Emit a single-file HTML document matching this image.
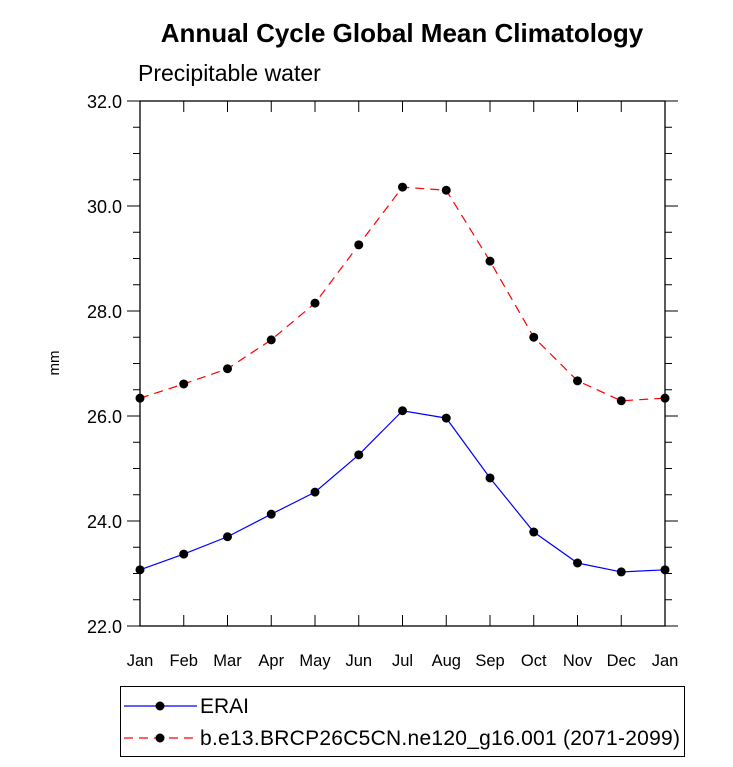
<!DOCTYPE html>
<html><head><meta charset="utf-8"><style>
body{margin:0;background:#fff;}
svg text{font-family:"Liberation Sans",Arial,sans-serif;}
</style></head><body>
<svg id="chart" width="733" height="762" viewBox="0 0 733 762" xmlns="http://www.w3.org/2000/svg">
<text x="402" y="42" font-size="26" font-weight="bold" text-anchor="middle">Annual Cycle Global Mean Climatology</text>
<text x="138" y="81" font-size="23">Precipitable water</text>
<text x="59" y="363" font-size="15" text-anchor="middle" transform="rotate(-90 59 363)">mm</text>
<g id="axes"></g>
<g id="series"></g>
<g>
<rect x="120.5" y="686.5" width="564" height="70" fill="none" stroke="#000" stroke-width="1"/>
<line x1="124" y1="706" x2="197" y2="706" stroke="#0000ff" stroke-width="1.2"/>
<circle cx="160" cy="706" r="4.5" fill="#000"/>
<text x="200" y="713" font-size="21">ERAI</text>
<line x1="124" y1="738" x2="197" y2="738" stroke="#ff0000" stroke-width="1.2" stroke-dasharray="9,6"/>
<circle cx="160" cy="738" r="4.5" fill="#000"/>
<text x="200" y="745" font-size="21" textLength="480">b.e13.BRCP26C5CN.ne120_g16.001 (2071-2099)</text>
</g>
</svg>
<script>
const months = ["Jan","Feb","Mar","Apr","May","Jun","Jul","Aug","Sep","Oct","Nov","Dec","Jan"];
const eraiValues = [23.07,23.37,23.70,24.13,24.55,25.26,26.10,25.96,24.82,23.79,23.20,23.03,23.07];
const modelValues = [26.34,26.61,26.90,27.45,28.15,29.26,30.36,30.30,28.95,27.50,26.67,26.29,26.34];
const yTickLabels = ["22.0","24.0","26.0","28.0","30.0","32.0"];
const yMin = 22, yMax = 32;
const L=140,R=665,T=101,B=626;
const NS="http://www.w3.org/2000/svg";
const sx=i=>L+(R-L)*i/(months.length-1);
const sy=v=>B-(B-T)*(v-yMin)/(yMax-yMin);
function mk(tag,attrs,parent){const e=document.createElementNS(NS,tag);for(const k in attrs)e.setAttribute(k,attrs[k]);parent.appendChild(e);return e;}
const ax=document.getElementById('axes');
const frame=mk('rect',{x:L,y:T,width:R-L,height:B-T,fill:'none',stroke:'#000','stroke-width':1.3},ax);


for(let v=yMin;v<=yMax+1e-9;v+=0.5){
  const major=Math.abs(v-Math.round(v/2)*2)<1e-9;
  const len=major?13:7;const y=sy(v);
  mk('line',{x1:L-len,y1:y,x2:L,y2:y,stroke:'#000','stroke-width':1},ax);
  mk('line',{x1:R,y1:y,x2:R+len,y2:y,stroke:'#000','stroke-width':1},ax);
}
yTickLabels.forEach(s=>{
  const t=mk('text',{x:L-18,y:sy(parseFloat(s))+7,'font-size':18,'text-anchor':'end'},ax);
  t.textContent=s;
  
  
});
months.forEach((m,i)=>{
  const x=sx(i);
  mk('line',{x1:x,y1:T,x2:x,y2:T+11,stroke:'#000','stroke-width':1},ax);
  mk('line',{x1:x,y1:B,x2:x,y2:B-11,stroke:'#000','stroke-width':1},ax);
  const t=mk('text',{x:x,y:B+40,'font-size':16.5,'text-anchor':'middle'},ax);
  t.textContent=m;
  
  
});
const sg=document.getElementById('series');
function draw(vals,color,dash,name){
  const pts=vals.map((v,i)=>sx(i)+','+sy(v)).join(' ');
  const pl=mk('polyline',{points:pts,fill:'none',stroke:color,'stroke-width':1.2},sg);
  if(dash)pl.setAttribute('stroke-dasharray',dash);
  
  
  vals.forEach((v,i)=>{
    const c=mk('circle',{cx:sx(i),cy:sy(v),r:4.5,fill:'#000'},sg);
    
    
  });
}
draw(eraiValues,'#0000ff',null,'erai');
draw(modelValues,'#ff0000','9,6','model');
</script>
</body></html>
